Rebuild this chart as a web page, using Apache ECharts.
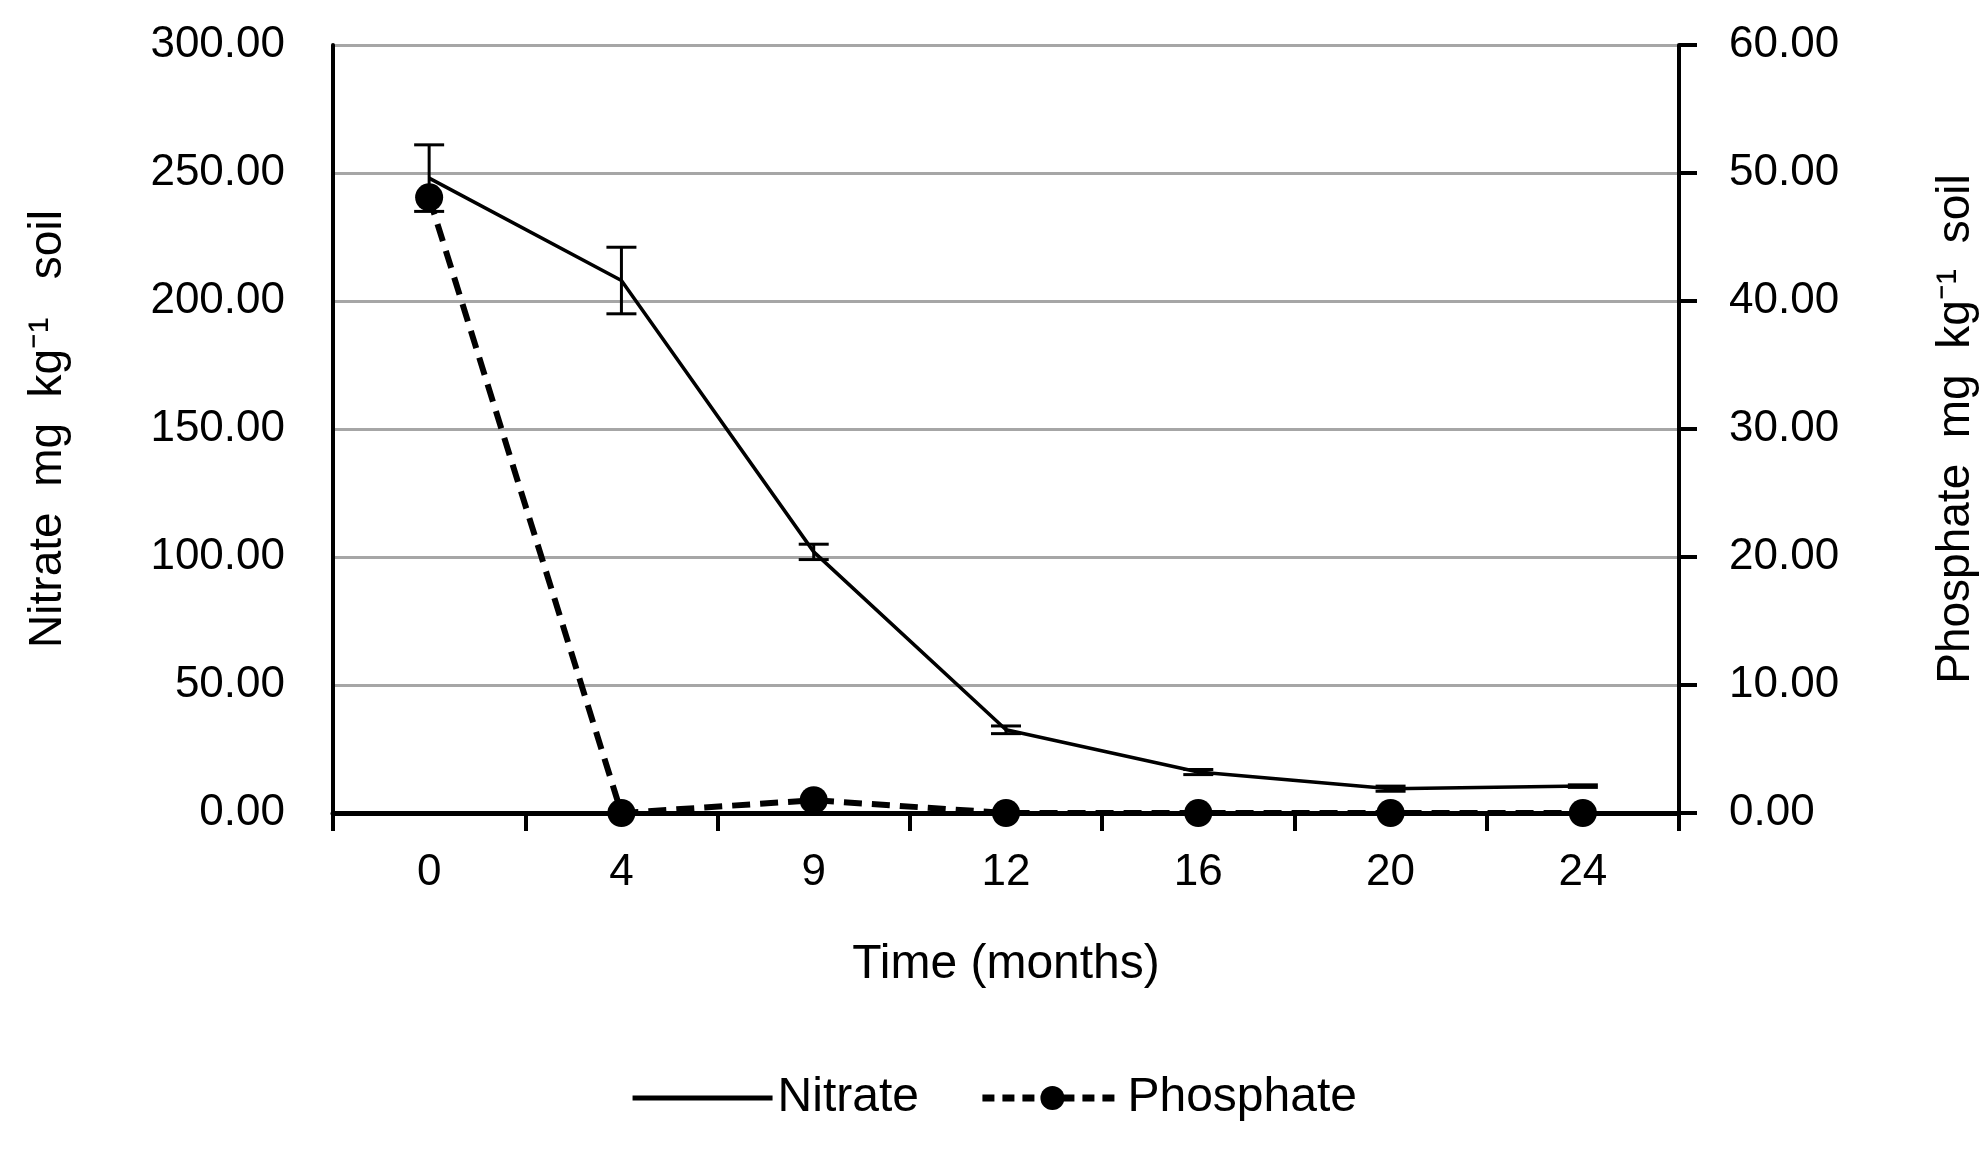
<!DOCTYPE html>
<html>
<head>
<meta charset="utf-8">
<title>Nitrate and phosphate over time</title>
<script src="https://cdn.jsdelivr.net/npm/echarts@6/dist/echarts.min.js"></script>
<style>
    html, body { margin: 0; padding: 0; background: #fff; }
    #chart { width: 1987px; height: 1153px; }
</style>
</head>
<body>
<div id="chart"></div>
<script>
// values
var months = ['0', '4', '9', '12', '16', '20', '24'];
var nitrate = [248, 208, 102, 32.5, 16, 9.5, 10.5];
var nitrateErr = [13, 13, 3, 1.5, 1, 1, 0.5];
var phosphate = [48.1, 0, 1.0, 0, 0, 0, 0];

(function () {
    var font = '"Liberation Sans", Arial, sans-serif';
    var black = '#000';

    // low / high ends of each nitrate error bar
    var errData = months.map(function (m, i) {
        return [i, nitrate[i] - nitrateErr[i], nitrate[i] + nitrateErr[i]];
    });

    var option = {
        backgroundColor: '#fff',
        animation: false,
        textStyle: { fontFamily: font, color: black },
        grid: {
            left: 333,
            right: 302,
            top: 45,
            bottom: 340
        },
        legend: {
            data: [{
                name: 'Nitrate',
                itemStyle: { opacity: 0 },
                lineStyle: { color: black, width: 5, type: 'solid' }
            }, {
                name: 'Phosphate',
                itemStyle: { color: black },
                lineStyle: { color: black, width: 7, type: [12, 8] }
            }],
            bottom: 26,
            left: 'center',
            itemWidth: 140,
            itemHeight: 30,
            itemGap: 60,
            textStyle: { fontSize: 48, color: black, fontFamily: font }
        },
        xAxis: {
            type: 'category',
            data: months,
            boundaryGap: true,
            name: 'Time (months)',
            nameLocation: 'middle',
            nameGap: 128,
            nameTextStyle: { fontSize: 48, color: black, fontFamily: font },
            axisLine: { lineStyle: { color: black, width: 5 } },
            axisTick: { show: true, length: 18, lineStyle: { color: black, width: 4 } },
            axisLabel: { fontSize: 44, color: black, margin: 38, fontFamily: font },
            splitLine: { show: false }
        },
        yAxis: [{
            type: 'value',
            min: 0,
            max: 300,
            interval: 50,
            position: 'left',
            name: 'Nitrate  mg  kg\u207B\u00B9   soil',
            nameLocation: 'middle',
            nameRotate: 90,
            nameGap: 262,
            nameTextStyle: { fontSize: 46, color: black, fontFamily: font },
            axisLine: { show: true, lineStyle: { color: black, width: 4 } },
            axisTick: { show: false },
            axisLabel: {
                fontSize: 44,
                color: black,
                margin: 48,
                fontFamily: font,
                formatter: function (v) { return v.toFixed(2); }
            },
            splitLine: { show: true, lineStyle: { color: '#a6a6a6', width: 3 } }
        }, {
            type: 'value',
            min: 0,
            max: 60,
            interval: 10,
            position: 'right',
            name: 'Phosphate  mg  kg\u207B\u00B9  soil',
            nameLocation: 'middle',
            nameRotate: 90,
            nameGap: 254,
            nameTextStyle: { fontSize: 46, color: black, fontFamily: font },
            axisLine: { show: true, lineStyle: { color: black, width: 4 } },
            axisTick: { show: true, length: 18, lineStyle: { color: black, width: 4 } },
            axisLabel: {
                fontSize: 44,
                color: black,
                margin: 50,
                fontFamily: font,
                formatter: function (v) { return v.toFixed(2); }
            },
            splitLine: { show: false }
        }],
        series: [{
            name: 'Nitrate',
            type: 'line',
            yAxisIndex: 0,
            data: nitrate,
            symbol: 'none',
            lineStyle: { color: black, width: 3.5 },
            itemStyle: { color: black },
            z: 3
        }, {
            name: 'Nitrate error',
            type: 'custom',
            yAxisIndex: 0,
            data: errData,
            encode: { x: 0, y: [1, 2] },
            renderItem: function (params, api) {
                var lo = api.coord([api.value(0), api.value(1)]);
                var hi = api.coord([api.value(0), api.value(2)]);
                var half = 15;
                var st = { stroke: black, lineWidth: 3 };
                return {
                    type: 'group',
                    children: [
                        { type: 'line', shape: { x1: hi[0], y1: hi[1], x2: lo[0], y2: lo[1] }, style: st },
                        { type: 'line', shape: { x1: hi[0] - half, y1: hi[1], x2: hi[0] + half, y2: hi[1] }, style: st },
                        { type: 'line', shape: { x1: lo[0] - half, y1: lo[1], x2: lo[0] + half, y2: lo[1] }, style: st }
                    ]
                };
            },
            z: 4
        }, {
            name: 'Phosphate',
            type: 'line',
            yAxisIndex: 1,
            data: phosphate,
            symbol: 'circle',
            symbolSize: 28,
            showSymbol: true,
            lineStyle: { color: black, width: 6, type: [18, 10], cap: 'butt' },
            itemStyle: { color: black },
            z: 5
        }]
    };

    var chart = echarts.init(document.getElementById('chart'));
    chart.setOption(option);
})();
</script>
</body>
</html>
